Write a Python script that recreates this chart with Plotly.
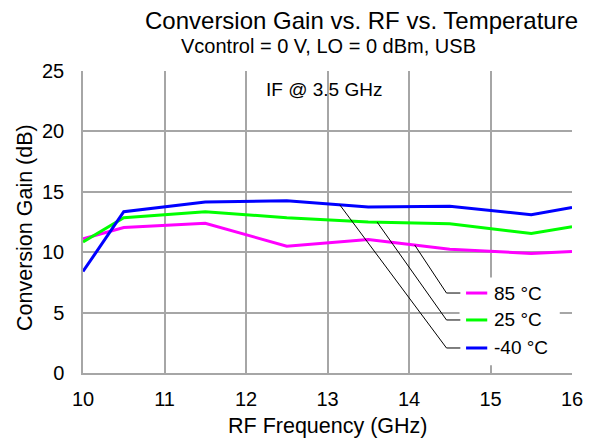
import numpy as np
import plotly.graph_objects as go

# Data
rf_ghz = [10, 10.5, 11.5, 12.5, 13.5, 14.5, 15.5, 16]
gain_85c = [11.1, 12.05, 12.4, 10.5, 11.05, 10.25, 9.9, 10.05]
gain_25c = [10.85, 12.85, 13.35, 12.85, 12.5, 12.35, 11.55, 12.1]
gain_m40c = [8.4, 13.35, 14.15, 14.25, 13.75, 13.8, 13.1, 13.7]

series = [
    ("85 °C", gain_85c, "#ff00ff"),
    ("25 °C", gain_25c, "#00ff00"),
    ("-40 °C", gain_m40c, "#0000ff"),
]

x_ticks = [10, 11, 12, 13, 14, 15, 16]
y_ticks = [0, 5, 10, 15, 20, 25]

# Where each leader line leaves its curve, and where the legend rows sit
leader_x = {"85 °C": 14.07, "25 °C": 13.61, "-40 °C": 13.15}
legend_rows = {"85 °C": 6.62, "25 °C": 4.39, "-40 °C": 2.07}

font = "Liberation Sans, Arial, sans-serif"
grid = "#a6a6a6"

fig = go.Figure()

for name, vals, col in series:
    fig.add_trace(go.Scatter(
        x=rf_ghz, y=vals, mode="lines", name=name,
        line=dict(color=col, width=3),
        showlegend=False,
    ))

shapes = []
annotations = []

# White legend box covering the grid
shapes.append(dict(type="rect", xref="x", yref="y", x0=14.62, x1=15.85, y0=0.65, y1=7.9,
                   fillcolor="white", line=dict(width=0), layer="above"))

for name, vals, col in series:
    x0 = leader_x[name]
    y0 = float(np.interp(x0, rf_ghz, vals))
    yr = legend_rows[name]
    # leader line
    shapes.append(dict(type="line", xref="x", yref="y", x0=x0, y0=y0, x1=14.46, y1=yr,
                       line=dict(color="black", width=1), layer="above"))
    shapes.append(dict(type="line", xref="x", yref="y", x0=14.46, y0=yr, x1=14.63, y1=yr,
                       line=dict(color="black", width=1), layer="above"))
    # legend swatch
    shapes.append(dict(type="line", xref="x", yref="y", x0=14.7, y0=yr, x1=14.96, y1=yr,
                       line=dict(color=col, width=3), layer="above"))
    annotations.append(dict(x=15.02, y=yr, xref="x", yref="y", text=name, showarrow=False,
                            xanchor="left", yanchor="middle",
                            font=dict(size=19, color="black", family=font)))

annotations.append(dict(x=12.22, y=23.45, xref="x", yref="y", text="IF @ 3.5 GHz",
                        showarrow=False, xanchor="left", yanchor="middle",
                        font=dict(size=19, color="black", family=font)))

# Titles
annotations.append(dict(x=0.569, y=1.0, xref="paper", yref="paper", yshift=51,
                        text="Conversion Gain vs. RF vs. Temperature", showarrow=False,
                        yanchor="middle", font=dict(size=24, color="black", family=font)))
annotations.append(dict(x=0.503, y=1.0, xref="paper", yref="paper", yshift=25,
                        text="Vcontrol = 0 V, LO = 0 dBm, USB", showarrow=False,
                        yanchor="middle", font=dict(size=20, color="black", family=font)))

# Axis titles
annotations.append(dict(x=0.5, y=0, xref="paper", yref="paper", yshift=-53,
                        text="RF Frequency (GHz)", showarrow=False, yanchor="middle",
                        font=dict(size=21.5, color="black", family=font)))
annotations.append(dict(x=0, y=0.5, xref="paper", yref="paper", xshift=-58, yshift=-6,
                        text="Conversion Gain (dB)", showarrow=False, textangle=-90,
                        xanchor="center", font=dict(size=21.5, color="black", family=font)))

# the page body adds an 8 px offset, so the figure is a bit smaller than the window
fig.update_layout(
    width=592, height=433,
    margin=dict(l=75, r=28, t=63, b=68),
    paper_bgcolor="white", plot_bgcolor="white",
    font=dict(family=font, color="black"),
    shapes=shapes,
    annotations=annotations,
)

fig.update_xaxes(
    range=[10, 16], tickvals=x_ticks, ticks="", automargin=False,
    showgrid=True, gridcolor=grid, gridwidth=1.5,
    showline=True, linecolor=grid, linewidth=1.5, zeroline=False,
    tickfont=dict(size=20), ticklabelstandoff=7,
)
fig.update_yaxes(
    range=[0, 25], tickvals=y_ticks, ticks="", automargin=False,
    showgrid=True, gridcolor=grid, gridwidth=1.5,
    showline=True, linecolor=grid, linewidth=1.5, zeroline=False,
    tickfont=dict(size=20), ticklabelstandoff=13,
)

fig.write_html("out.html")
